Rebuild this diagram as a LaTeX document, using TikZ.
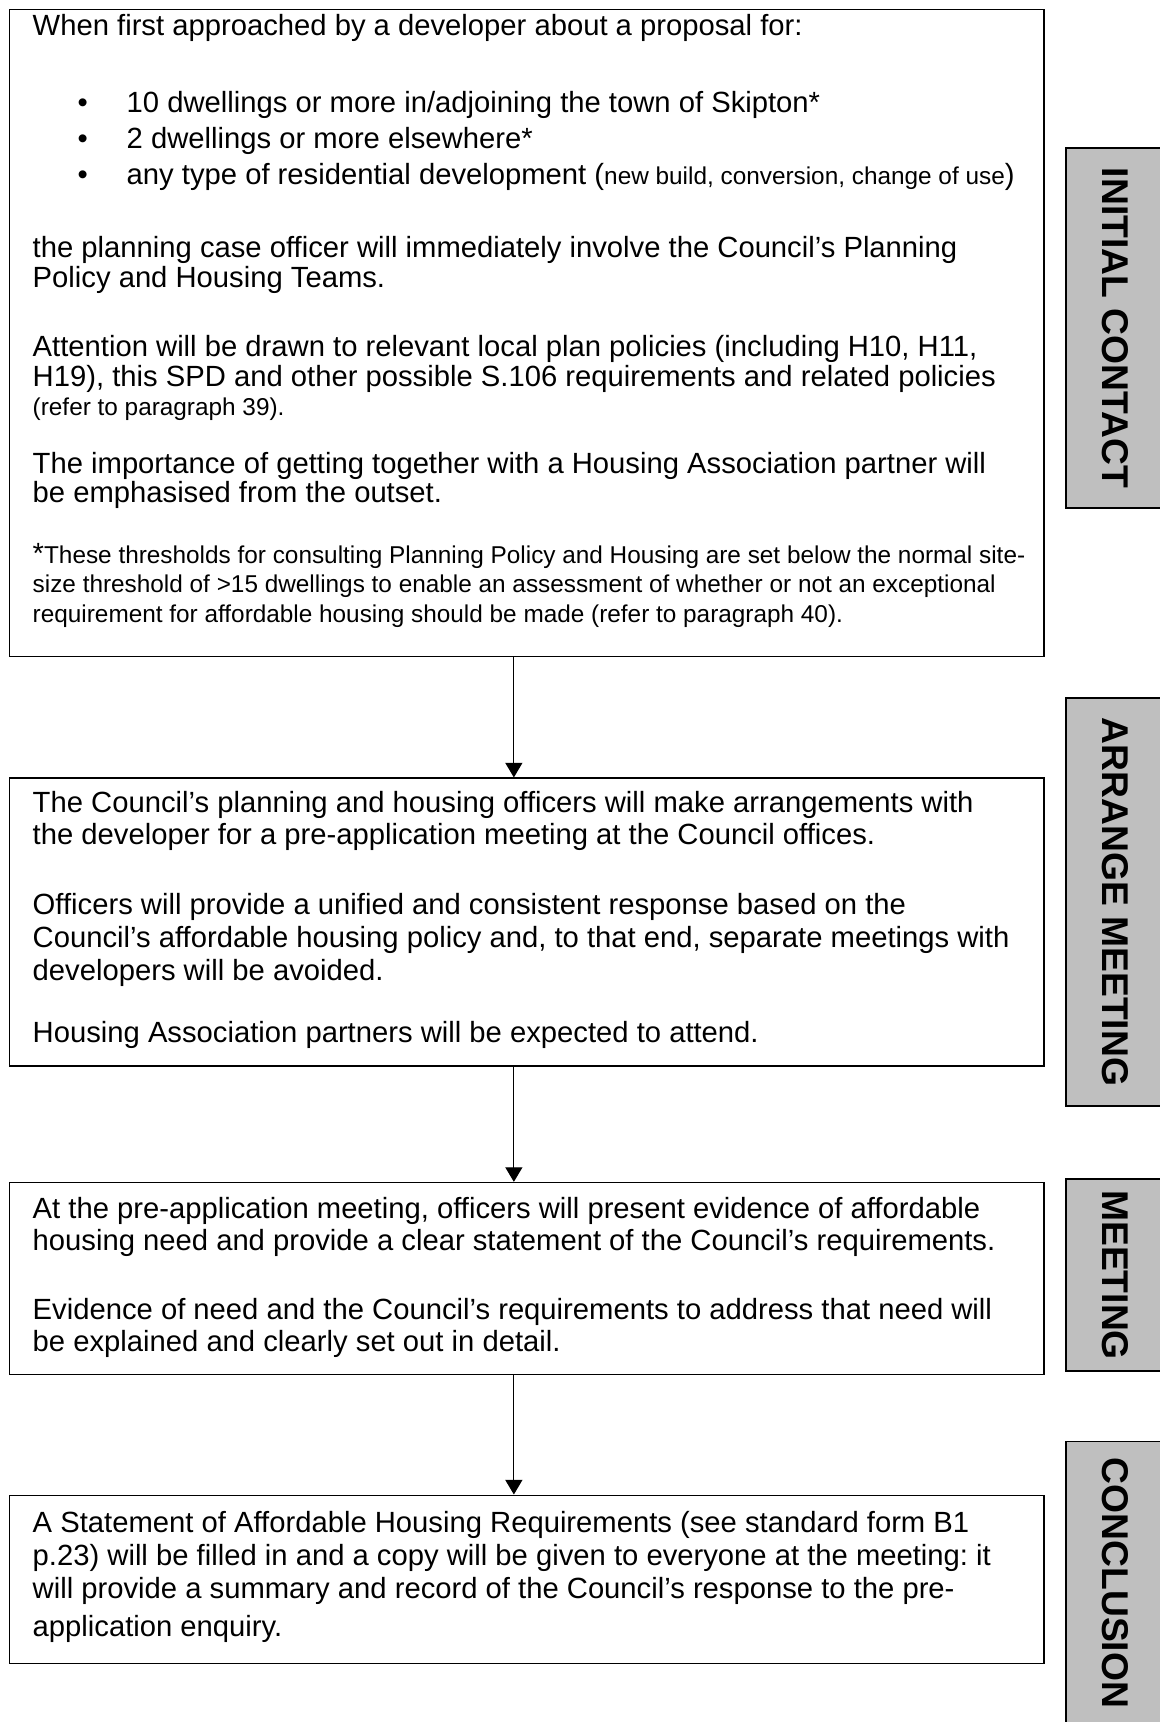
\documentclass[tikz,border=0pt]{standalone}
\usepackage{fontspec}
\setmainfont{Liberation Sans}
\usetikzlibrary{positioning,arrows.meta}

% text of a box: height, baselineskip, first line height, lines
\newcommand{\boxcontent}[4]{%
  \parbox[t][#1][t]{412pt}{\parindent=0pt\leftskip=3.1pt\frenchspacing
    \fontsize{12}{#2}\selectfont\rule{0pt}{#3}#4}}
\newcommand{\smalltext}{\fontsize{10}{12}\selectfont}
\newcommand{\bulletline}{\hspace*{18.4pt}\makebox[20.2pt][l]{\textbullet}}

\begin{document}
\begin{tikzpicture}[
  x=0.4107pt, y=-0.4107pt,
  block/.style={draw, line width=0.6pt, inner xsep=6.35pt, inner ysep=0pt},
  phase/.style={draw, line width=0.6pt, fill=black!25, rotate=-90,
    font=\bfseries\fontsize{15.3}{18}\selectfont, minimum height=40.2pt, inner sep=0pt},
  arr/.style={-{Triangle[width=7pt,length=6pt]}, line width=0.5pt}
]
\useasboundingbox (0,0) rectangle (1159,1722);

% boxes
\node[block, anchor=north west] (initial) at (9,9) {\boxcontent{265.7pt}{12pt}{10.6pt}{%
When first approached by a developer about a proposal for:\\[19.7pt]
\bulletline 10 dwellings or more in/adjoining the town of Skipton*\\[2.8pt]
\bulletline 2 dwellings or more elsewhere*\\[2.8pt]
\bulletline any type of residential development ({\smalltext new build, conversion, change of use})\\[18pt]
the planning case officer will immediately involve the Council’s Planning\\
Policy and Housing Teams.\\[16.7pt]
Attention will be drawn to relevant local plan policies (including H10, H11,\\
H19), this SPD and other possible S.106 requirements and related policies\\
{\smalltext (refer to paragraph 39).}\\[11.8pt]
The importance of getting together with a Housing Association partner will\\
be emphasised from the outset.\\[13.1pt]
*{\smalltext These thresholds for consulting Planning Policy and Housing are set below the normal site-\\
size threshold of >15 dwellings to enable an assessment of whether or not an exceptional\\
requirement for affordable housing should be made (refer to paragraph 40).}}};

\node[block, below=49.3pt of initial] (arrange) {\boxcontent{118.3pt}{13.4pt}{14pt}{%
The Council’s planning and housing officers will make arrangements with\\
the developer for a pre-application meeting at the Council offices.\\[15.3pt]
Officers will provide a unified and consistent response based on the\\
Council’s affordable housing policy and, to that end, separate meetings with\\
developers will be avoided.\\[12.1pt]
Housing Association partners will be expected to attend.}};

\node[block, below=47.2pt of arrange] (meeting) {\boxcontent{78.9pt}{13.2pt}{14.8pt}{%
At the pre-application meeting, officers will present evidence of affordable\\
housing need and provide a clear statement of the Council’s requirements.\\[15.1pt]
Evidence of need and the Council’s requirements to address that need will\\
be explained and clearly set out in detail.}};

\node[block, below=48.9pt of meeting] (conclusion) {\boxcontent{69pt}{13.6pt}{15.2pt}{%
A Statement of Affordable Housing Requirements (see standard form B1\\
p.23) will be filled in and a copy will be given to everyone at the meeting: it\\
will provide a summary and record of the Council’s response to the pre-\\[2pt]
application enquiry.}};

% stage labels
\node[phase, minimum width=147.9pt] (initiallab) at (1115,328) {INITIAL CONTACT};
\node[phase, minimum width=167.6pt] (arrangelab) at (1115,902) {ARRANGE MEETING};
\node[phase, minimum width=78.9pt] (meetinglab) at (1115,1275) {MEETING};
\node[phase, minimum width=116.2pt] (conclusionlab) at (1115,1583) {CONCLUSION};

% arrows
\draw[arr] ([xshift=-5.3pt]initial.south) -- ([xshift=-5.3pt]arrange.north);
\draw[arr] ([xshift=-5.3pt]arrange.south) -- ([xshift=-5.3pt]meeting.north);
\draw[arr] ([xshift=-5.3pt]meeting.south) -- ([xshift=-5.3pt]conclusion.north);

\end{tikzpicture}
\end{document}
